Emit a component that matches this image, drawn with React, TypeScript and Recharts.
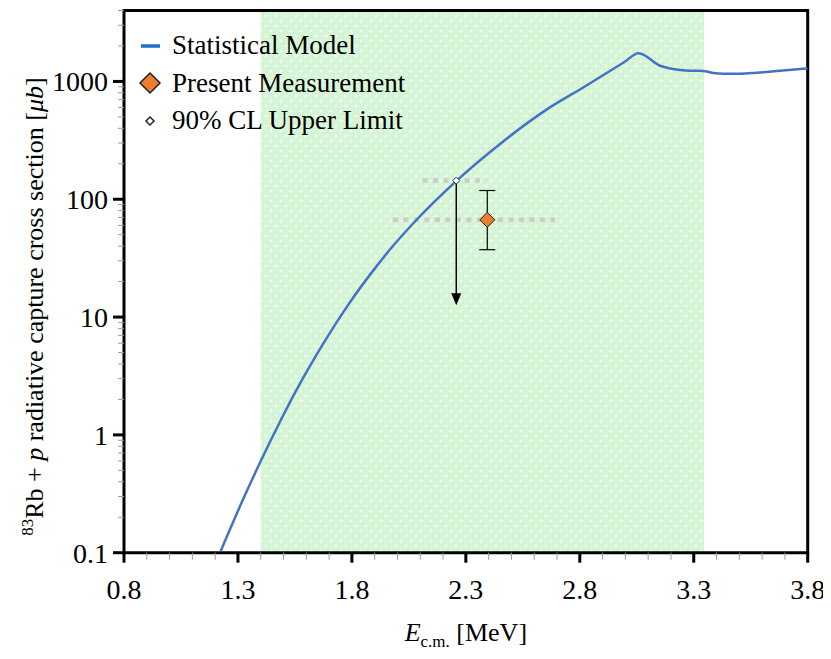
import {
  ComposedChart,
  ErrorBar,
  Legend,
  Line,
  ReferenceArea,
  ReferenceLine,
  Scatter,
  XAxis,
  YAxis,
} from 'recharts'

const FONT = "'Liberation Serif', 'DejaVu Serif', Times, serif"

// statistical model curve (E_cm in MeV, cross section in µb)
const modelEnergy = [
  1.224, 1.323, 1.397, 1.485, 1.572, 1.675, 1.792, 1.894, 1.967, 2.084, 2.26, 2.45, 2.669, 2.815,
  2.994, 3.058, 3.152, 3.196, 3.24, 3.284, 3.327, 3.357, 3.386, 3.43, 3.503, 3.576, 3.679, 3.8,
]
const modelSigma = [
  0.103, 0.285, 0.583, 1.3, 2.72, 5.98, 13.4, 24.9, 37.4, 67, 144, 295, 602, 889, 1455, 1734,
  1358, 1289, 1250, 1233, 1233, 1216, 1178, 1162, 1162, 1185, 1233, 1290,
]

// present measurement
const measEnergy = [2.394]
const measSigma = [66.9]
const measErrLow = [29.6]
const measErrHigh = [51.7]
const measBin = [1.98, 2.69]

// 90% CL upper limit
const limitEnergy = [2.258]
const limitSigma = [144]
const limitArrowTo = [12.6]
const limitBin = [2.11, 2.39]

// shaded energy window
const windowRange = [1.4, 3.345]

const xDomain = [0.8, 3.8]
const yDomain = [0.1, 4000]
const xMajorTicks = [0.8, 1.3, 1.8, 2.3, 2.8, 3.3, 3.8]
const xMajorLabels = ['0.8', '1.3', '1.8', '2.3', '2.8', '3.3', '3.8']
const xMinorTicks = [
  0.9, 1.0, 1.1, 1.2, 1.4, 1.5, 1.6, 1.7, 1.9, 2.0, 2.1, 2.2, 2.4, 2.5, 2.6, 2.7, 2.9, 3.0, 3.1,
  3.2, 3.4, 3.5, 3.6, 3.7,
]
const yMajorTicks = [0.1, 1, 10, 100, 1000]
const yMajorLabels = ['0.1', '1', '10', '100', '1000']
const yMinorTicks = [
  0.2, 0.3, 0.4, 0.5, 0.6, 0.7, 0.8, 0.9, 2, 3, 4, 5, 6, 7, 8, 9, 20, 30, 40, 50, 60, 70, 80, 90,
  200, 300, 400, 500, 600, 700, 800, 900, 2000, 3000, 4000,
]

const legendLabels = ['Statistical Model', 'Present Measurement', '90% CL Upper Limit']

const modelData = modelEnergy.map((e, i) => ({ e, sigma: modelSigma[i] }))
const measData = measEnergy.map((e, i) => ({
  e,
  sigma: measSigma[i],
  err: [measErrLow[i], measErrHigh[i]],
}))
const limitData = limitEnergy.map((e, i) => ({ e, sigma: limitSigma[i] }))

const xTicks = [...xMajorTicks, ...xMinorTicks].sort((a, b) => a - b)
const yTicks = [...yMajorTicks, ...yMinorTicks].sort((a, b) => a - b)

function XTick({ x, y, payload }: any) {
  const i = xMajorTicks.indexOf(payload.value)
  if (i < 0) return <line x1={x} y1={y} x2={x} y2={y + 7} stroke="#9a9a9a" strokeWidth={1} />
  return (
    <g>
      <line x1={x} y1={y} x2={x} y2={y + 10} stroke="#000" strokeWidth={3} />
      <text x={x} y={y + 46} textAnchor="middle" style={{ fontFamily: FONT }} fontSize={28} fill="#000">
        {xMajorLabels[i]}
      </text>
    </g>
  )
}

function YTick({ x, y, payload }: any) {
  const i = yMajorTicks.indexOf(payload.value)
  if (i < 0) return <line x1={x - 6} y1={y} x2={x} y2={y} stroke="#9a9a9a" strokeWidth={1} />
  return (
    <g>
      <line x1={x - 11} y1={y} x2={x} y2={y} stroke="#000" strokeWidth={3} />
      <text x={x - 16} y={y + 10} textAnchor="end" style={{ fontFamily: FONT }} fontSize={28} fill="#000">
        {yMajorLabels[i]}
      </text>
    </g>
  )
}

function XTitle({ viewBox }: any) {
  const cx = viewBox.x + viewBox.width / 2
  return (
    <text x={cx} y={viewBox.y + 88} textAnchor="middle" style={{ fontFamily: FONT }} fontSize={26} fill="#000">
      <tspan fontStyle="italic">E</tspan>
      <tspan fontSize={17} dy={6}>c.m.</tspan>
      <tspan dy={-6}> [MeV]</tspan>
    </text>
  )
}

function YTitle({ viewBox }: any) {
  const cx = 35
  const cy = viewBox.y + viewBox.height / 2 + 25
  return (
    <text
      x={cx}
      y={cy}
      transform={`rotate(-90, ${cx}, ${cy})`}
      textAnchor="middle"
      style={{ fontFamily: FONT }}
      fontSize={26}
      fill="#000"
    >
      <tspan fontSize={17} dy={-10}>83</tspan>
      <tspan dy={10}>Rb + </tspan>
      <tspan fontStyle="italic">p</tspan>
      <tspan> radiative capture cross section [</tspan>
      <tspan fontStyle="italic">μb</tspan>
      <tspan>]</tspan>
    </text>
  )
}

function ArrowDown({ x1, y1, x2, y2 }: any) {
  return (
    <g>
      <line x1={x1} y1={y1} x2={x2} y2={y2 - 10} stroke="#000" strokeWidth={1.5} />
      <polygon points={`${x2 - 5},${y2 - 12} ${x2 + 5},${y2 - 12} ${x2},${y2}`} fill="#000" />
    </g>
  )
}

function MeasDiamond({ cx, cy }: any) {
  const r = 7.5
  return (
    <polygon
      points={`${cx},${cy - r} ${cx + r},${cy} ${cx},${cy + r} ${cx - r},${cy}`}
      fill="#ed7d31"
      stroke="#222"
      strokeWidth={1}
    />
  )
}

function LimitDiamond({ cx, cy }: any) {
  const r = 3.5
  return (
    <polygon
      points={`${cx},${cy - r} ${cx + r},${cy} ${cx},${cy + r} ${cx - r},${cy}`}
      fill="#fff"
      stroke="#333"
      strokeWidth={1}
    />
  )
}

function LegendIcon({ index }: { index: number }) {
  if (index === 0) return <line x1={7} y1={12} x2={26} y2={12} stroke="#1f6fc4" strokeWidth={3.5} />
  if (index === 1)
    return <polygon points="16,2 26,12 16,22 6,12" fill="#ed7d31" stroke="#222" strokeWidth={1.5} />
  return <polygon points="16,8 20,12 16,16 12,12" fill="#fff" stroke="#222" strokeWidth={1.5} />
}

function LegendBox() {
  return (
    <div style={{ fontFamily: FONT, fontSize: 27, color: '#000' }}>
      {legendLabels.map((label, i) => (
        <div key={label} style={{ display: 'flex', alignItems: 'center', height: 37.5, whiteSpace: 'nowrap' }}>
          <svg width={32} height={24} style={{ marginRight: 6 }}>
            <LegendIcon index={i} />
          </svg>
          <span>{label}</span>
        </div>
      ))}
    </div>
  )
}

export default function App() {
  return (
    <div style={{ width: 823, height: 643, background: '#fff', fontFamily: FONT }}>
      <ComposedChart
        width={823}
        height={643}
        margin={{ top: 2.5, right: 23.3, bottom: 38.3, left: 0 }}
      >
        <defs>
          <pattern id="windowFill" width={10} height={10} patternUnits="userSpaceOnUse">
            <rect width={10} height={10} fill="#d6f5d6" />
            <rect x={0} y={0} width={1} height={1} fill="#c6eec6" />
            <rect x={5} y={5} width={1} height={1} fill="#c6eec6" />
            <rect x={1.5} y={2.5} width={3} height={1} fill="#f4fdf4" />
            <rect x={2.5} y={1.5} width={1} height={3} fill="#f4fdf4" />
            <rect x={6.5} y={7.5} width={3} height={1} fill="#f4fdf4" />
            <rect x={7.5} y={6.5} width={1} height={3} fill="#f4fdf4" />
          </pattern>
        </defs>
        <XAxis
          dataKey="e"
          type="number"
          domain={xDomain}
          ticks={xTicks}
          interval={0}
          tick={XTick}
          tickLine={false}
          tickSize={0}
          tickMargin={0}
          axisLine={false}
          height={60}
          allowDataOverflow
          label={XTitle}
        />
        <YAxis
          dataKey="sigma"
          type="number"
          scale="log"
          domain={yDomain}
          ticks={yTicks}
          interval={0}
          tick={YTick}
          tickLine={false}
          tickSize={0}
          tickMargin={0}
          axisLine={false}
          width={116}
          allowDataOverflow
          label={YTitle}
        />
        <ReferenceArea
          x1={windowRange[0]}
          x2={windowRange[1]}
          y1={yDomain[0]}
          y2={yDomain[1]}
          fill="url(#windowFill)"
          fillOpacity={1}
          stroke="none"
          ifOverflow="visible"
        />
        <ReferenceLine
          segment={[
            { x: measBin[0], y: measSigma[0] },
            { x: measBin[1], y: measSigma[0] },
          ]}
          stroke="#cccccc"
          strokeWidth={4.5}
          strokeDasharray="5 5.5"
        />
        <ReferenceLine
          segment={[
            { x: limitBin[0], y: limitSigma[0] },
            { x: limitBin[1], y: limitSigma[0] },
          ]}
          stroke="#cccccc"
          strokeWidth={4.5}
          strokeDasharray="5 5.5"
        />
        <Line
          data={modelData}
          dataKey="sigma"
          name={legendLabels[0]}
          type="monotone"
          stroke="#4472c4"
          strokeWidth={2.5}
          dot={false}
          activeDot={false}
          isAnimationActive={false}
        />
        <ReferenceLine
          segment={[
            { x: limitEnergy[0], y: limitSigma[0] },
            { x: limitEnergy[0], y: limitArrowTo[0] },
          ]}
          shape={ArrowDown}
        />
        <Scatter
          data={limitData}
          name={legendLabels[2]}
          shape={LimitDiamond}
          isAnimationActive={false}
        />
        <Scatter data={measData} name={legendLabels[1]} shape={MeasDiamond} isAnimationActive={false}>
          <ErrorBar dataKey="err" direction="y" width={8} stroke="#000" strokeWidth={1.2} isAnimationActive={false} />
        </Scatter>
        <ReferenceArea
          x1={xDomain[0]}
          x2={xDomain[1]}
          y1={yDomain[0]}
          y2={yDomain[1]}
          fill="none"
          stroke="#000"
          strokeWidth={3}
          ifOverflow="visible"
        />
        <Legend
          layout="vertical"
          align="center"
          verticalAlign="middle"
          content={LegendBox}
          wrapperStyle={{ top: 19, left: 126, width: 'auto' }}
        />
      </ComposedChart>
    </div>
  )
}
